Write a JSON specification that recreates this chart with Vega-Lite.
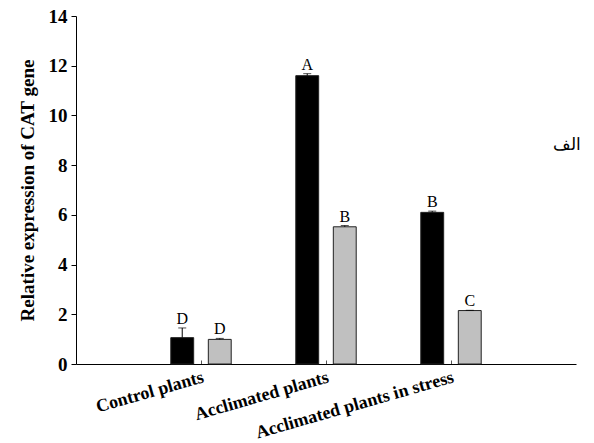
{
  "$schema": "https://vega.github.io/schema/vega-lite/v6.json",
  "width": 500,
  "height": 348,
  "autosize": {"type": "none"},
  "padding": {"left": 76, "top": 16, "right": 18, "bottom": 79},
  "background": "white",
  "config": {"view": {"stroke": null}, "font": "Liberation Serif"},
  "datasets": {
    "bars": [
      {"treatment": "Control plants", "series": "1", "value": 1.06, "hi": 1.45, "letter": "D"},
      {"treatment": "Control plants", "series": "2", "value": 0.99, "hi": 1.03, "letter": "D"},
      {"treatment": "Acclimated plants", "series": "1", "value": 11.6, "hi": 11.68, "letter": "A"},
      {"treatment": "Acclimated plants", "series": "2", "value": 5.52, "hi": 5.57, "letter": "B"},
      {"treatment": "Acclimated plants in stress", "series": "1", "value": 6.1, "hi": 6.15, "letter": "B"},
      {"treatment": "Acclimated plants in stress", "series": "2", "value": 2.15, "hi": 2.16, "letter": "C"}
    ],
    "note": [{"label": "الف", "x": 3.93, "y": 8.8}]
  },
  "layer": [
    {
      "data": {"name": "bars"},
      "encoding": {
        "x": {
          "field": "treatment", "type": "nominal", "sort": null,
          "scale": {"paddingInner": 0, "paddingOuter": 0.5},
          "axis": {
            "title": null, "domainColor": "black", "domainWidth": 1,
            "tickColor": "#555", "tickSize": -4, "tickWidth": 1, "labelPadding": 8,
            "labelAngle": -16, "labelAlign": "right", "labelBaseline": "top",
            "labelFont": "Liberation Serif", "labelFontWeight": "bold", "labelFontSize": 18,
            "labelColor": "black", "labelOverlap": false, "labelLimit": 400
          }
        },
        "xOffset": {"field": "series", "type": "nominal", "scale": {"paddingInner": 0.39, "paddingOuter": 0.86}},
        "y": {
          "field": "value", "type": "quantitative",
          "scale": {"domain": [0, 14]},
          "axis": {
            "title": "Relative expression of CAT gene",
            "titleFont": "Liberation Serif", "titleFontWeight": "bold", "titleFontSize": 19,
            "titleColor": "black", "titlePadding": 11,
            "values": [0, 2, 4, 6, 8, 10, 12, 14], "grid": false,
            "domainColor": "black", "tickColor": "black", "tickSize": 5,
            "labelFont": "Liberation Serif", "labelFontWeight": "bold", "labelFontSize": 19,
            "labelColor": "black", "labelPadding": 4
          }
        }
      },
      "layer": [
        {
          "mark": {"type": "bar", "stroke": "#222", "strokeWidth": 1},
          "encoding": {
            "color": {"field": "series", "type": "nominal", "scale": {"range": ["#000000", "#c0c0c0"]}, "legend": null}
          }
        },
        {
          "mark": {"type": "rule", "color": "black", "strokeWidth": 1},
          "encoding": {"y2": {"field": "hi"}}
        },
        {
          "mark": {"type": "tick", "color": "black", "thickness": 1, "size": 8, "orient": "horizontal"},
          "encoding": {"y": {"field": "hi", "type": "quantitative"}}
        },
        {
          "mark": {"type": "text", "baseline": "bottom", "dy": -1, "fontSize": 16, "font": "Liberation Serif", "color": "black"},
          "encoding": {"y": {"field": "hi", "type": "quantitative"}, "text": {"field": "letter"}}
        }
      ]
    },
    {
      "data": {"name": "note"},
      "mark": {"type": "text", "fontSize": 17, "color": "black", "font": "DejaVu Serif"},
      "encoding": {
        "x": {"field": "x", "type": "quantitative", "scale": {"domain": [0, 4]}, "axis": null},
        "y": {"field": "y", "type": "quantitative"},
        "text": {"field": "label"}
      }
    }
  ],
  "resolve": {"scale": {"x": "independent"}}
}
